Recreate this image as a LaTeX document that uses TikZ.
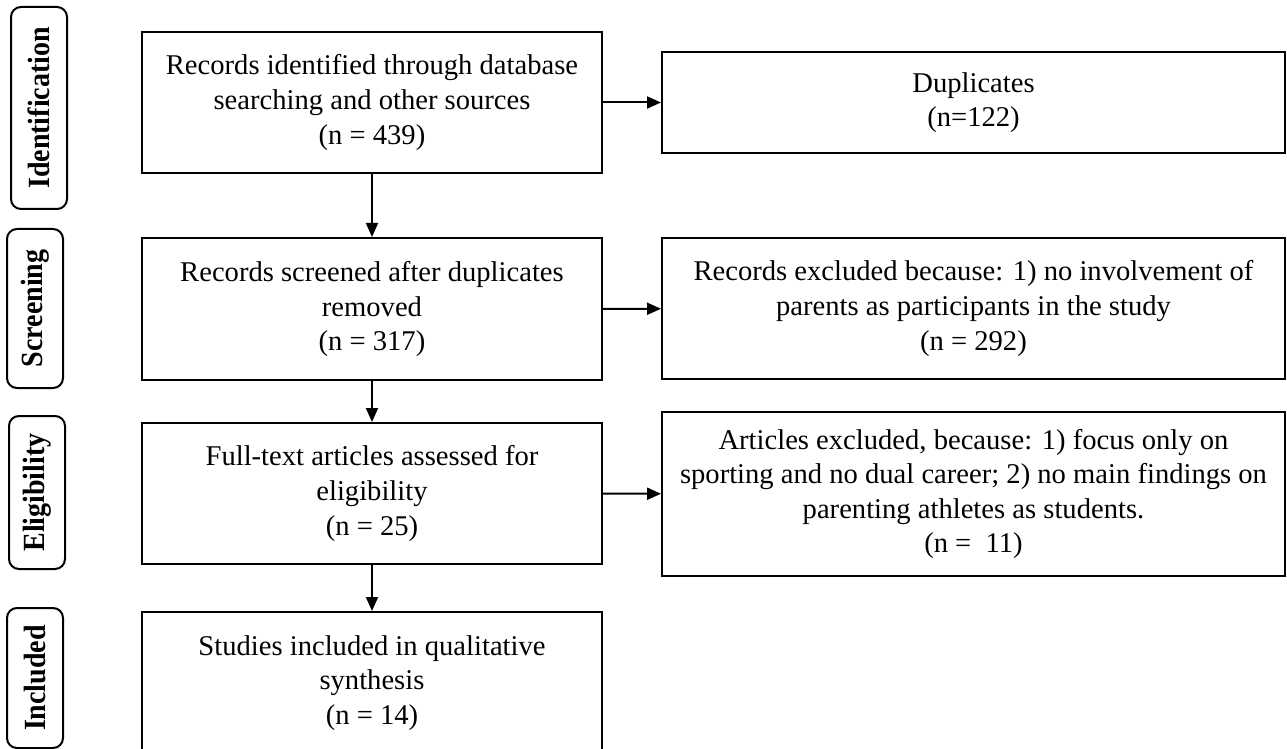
\documentclass[tikz,border=0pt]{standalone}
\usepackage{graphicx}
\usepackage{fontspec}
\setmainfont{Liberation Serif}
\usetikzlibrary{arrows.meta}

\newcommand{\stagetext}[1]{\scalebox{1}[1.1]{#1}}

\tikzset{every picture/.style={line width=1pt}}
\tikzset{
  flowbox/.style={draw, rectangle, align=center, inner sep=0pt, font=\fontsize{14.3pt}{17.3pt}\selectfont},
  stagebox/.style={draw, rectangle, rounded corners=5pt, rotate=90, minimum height=28pt, inner sep=0pt, font=\fontsize{14pt}{17pt}\selectfont\bfseries},
  flowarrow/.style={-{Triangle[length=7pt,width=6pt]}}
}

\begin{document}
\begin{tikzpicture}[x=0.5pt,y=0.5pt,yscale=-1,xscale=1]
	\useasboundingbox (0,0) rectangle (1287,749);
	\clip (0,0) rectangle (1287,749);
	%Stage labels
	\node [stagebox, minimum width=101pt] (idstage) at (39,108) {\stagetext{Identification}};
	\node [stagebox, minimum width=79.5pt] (scrstage) at (35,308.5) {\stagetext{Screening}};
	\node [stagebox, minimum width=76.5pt] (elstage) at (37,492.5) {\stagetext{Eligibility}};
	\node [stagebox, minimum width=70pt] (instage) at (35,678) {\stagetext{Included}};
	
	%Main column
	\node [flowbox, minimum width=230pt, minimum height=70.5pt] (records) at (372,102.5) {Records identified through database\\searching and other sources\\(n = 439)};
	\node [flowbox, minimum width=230pt, minimum height=71pt] (screened) at (372,309) {Records screened after duplicates\\removed\\(n = 317)};
	\node [flowbox, minimum width=230pt, minimum height=70.5pt] (fulltext) at (372,493.5) {Full-text articles assessed for\\eligibility\\(n = 25)};
	\node [flowbox, minimum width=230pt, minimum height=71pt] (studies) at (372,683) {Studies included in qualitative\\synthesis\\(n = 14)};
	
	%Exclusion column
	\node [flowbox, minimum width=311.5pt, minimum height=50.5pt] (dupl) at (973.5,102.5) {Duplicates\\(n=122)};
	\node [flowbox, minimum width=311.5pt, minimum height=70.5pt] (recexcl) at (973.5,308.5) {Records excluded because: 1) no involvement of\\parents as participants in the study\\(n = 292)};
	\node [flowbox, minimum width=311.5pt, minimum height=82pt] (artexcl) at (973.5,494) {Articles excluded, because: 1) focus only on\\sporting and no dual career; 2) no main findings on\\parenting athletes as students.\\(n = \ 11)};
	
	%Straight Lines
	\draw [flowarrow] (records) -- (screened);
	\draw [flowarrow] (screened) -- (fulltext);
	\draw [flowarrow] (fulltext) -- (studies);
	\draw [flowarrow] (records) -- (dupl);
	\draw [flowarrow] (screened) -- (recexcl);
	\draw [flowarrow] (fulltext) -- (artexcl);
\end{tikzpicture}
\end{document}
